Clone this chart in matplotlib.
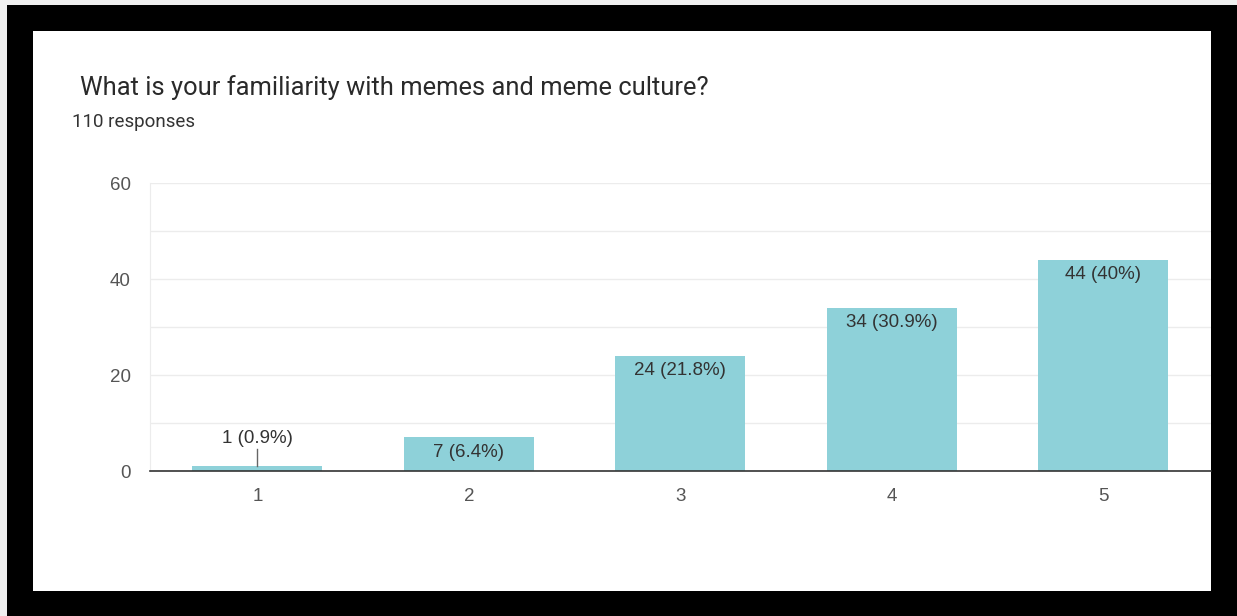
import matplotlib.pyplot as plt
from matplotlib.patches import Rectangle

plt.rcParams['font.family'] = ['Roboto', 'DejaVu Sans']

ratings = ['1', '2', '3', '4', '5']
counts = [1, 7, 24, 34, 44]
percents = ['0.9%', '6.4%', '21.8%', '30.9%', '40%']
y_ticks = [0, 20, 40, 60]

chart_font = ['Liberation Sans', 'DejaVu Sans']

W, H = 1237, 616
fig = plt.figure(figsize=(W / 100, H / 100), dpi=100)
fig.patch.set_facecolor('#f0f0f0')

# black frame around the white card
fig.patches.append(Rectangle((7 / W, 0), 1 - 7 / W, 1 - 5 / H, transform=fig.transFigure,
                             facecolor='black', edgecolor='none', zorder=-10))
fig.patches.append(Rectangle((33 / W, 25 / H), (1211 - 33) / W, (591 - 31) / H,
                             transform=fig.transFigure, facecolor='white', edgecolor='none', zorder=-9))

ax = fig.add_axes([150 / W, (H - 471) / H, (1211 - 150) / W, (471 - 183) / H])
ax.set_facecolor('none')
ax.set_zorder(2)

x = list(range(1, len(ratings) + 1))
bars = ax.bar(x, counts, width=0.615, color='#8ed1d9', zorder=3)

for xi, c, p in zip(x, counts, percents):
    label = f'{c} ({p})'
    if c < 4:
        ax.plot([xi, xi], [c, 4.5], color='#666666', lw=1, zorder=4)
        ax.text(xi, 6.7, label, ha='center', va='center', fontsize=13.5,
                color='#333333', family=chart_font)
    else:
        ax.text(xi, c - 3.1, label, ha='center', va='center', fontsize=13.5,
                color='#333333', family=chart_font, zorder=4)

ax.set_xlim(0.492, 5.509)
ax.set_ylim(0, 60)
ax.set_xticks(x)
ax.set_xticklabels(ratings, family=chart_font)
ax.set_yticks(y_ticks)
ax.set_yticklabels([str(t) for t in y_ticks], family=chart_font)
ax.set_yticks(range(0, 61, 10), minor=True)
ax.grid(axis='y', which='both', color='#ececec', lw=1, zorder=0)
ax.tick_params(axis='both', which='both', length=0, labelsize=13.5, labelcolor='#555555')
ax.tick_params(axis='x', pad=12)
ax.tick_params(axis='y', pad=14)
for s in ['top', 'right']:
    ax.spines[s].set_visible(False)
ax.spines['left'].set_color('#ececec')
ax.spines['bottom'].set_color('#333333')
ax.spines['bottom'].set_linewidth(1.2)
ax.spines['bottom'].set_zorder(5)

fig.text(80 / W, 1 - 88 / H, 'What is your familiarity with memes and meme culture?',
         ha='left', va='center', fontsize=18.4, color='#2a2a2a')
fig.text(72 / W, 1 - 122 / H, '110 responses', ha='left', va='center', fontsize=13.5, color='#333333')

fig.savefig('out.png', dpi=100)
